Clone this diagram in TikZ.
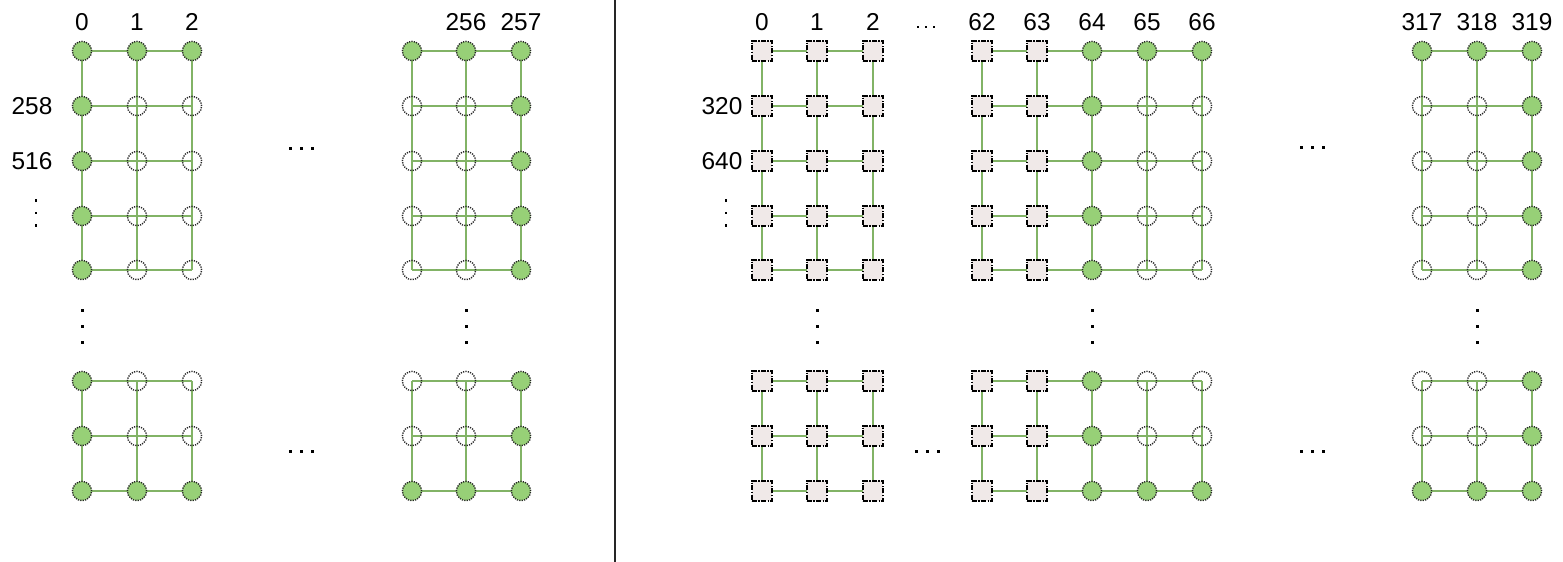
\documentclass[tikz,border=0pt]{standalone}
\usepackage{fontspec}
\setmainfont{Liberation Sans}
\usetikzlibrary{backgrounds}
\definecolor{gfill}{HTML}{97D077}
\definecolor{gline}{HTML}{82B366}
\definecolor{sfill}{RGB}{240,233,232}
\newcommand\mkgrid[4]{%
  \foreach \row [count=\j] in {#4} {%
    \foreach \t [count=\i] in \row {%
      \pgfmathsetmacro\xx{{#2}[\i-1]}%
      \pgfmathsetmacro\yy{{#3}[\j-1]}%
      \node[n\t] (#1-\j-\i) at (\xx,\yy) {};%
    }%
  }%
}
\newcommand\mkedges[3]{%
  \foreach \j in {1,...,#2} {%
    \foreach \i in {1,...,#3} {%
      \pgfmathtruncatemacro\ii{\i+1}%
      \pgfmathtruncatemacro\jj{\j+1}%
      \ifnum\i<#3 \draw[edge] (#1-\j-\i.center) -- (#1-\j-\ii.center);\fi
      \ifnum\j<#2 \draw[edge] (#1-\j-\i.center) -- (#1-\jj-\i.center);\fi
    }%
  }%
}
\newcommand\hdotsx[4]{\foreach \k in {0,1,2}{\fill ({#1-#3+\k*#3},#2) ++(-#4,-#4) rectangle ++(2*#4,2*#4);}}
\newcommand\vdotsx[4]{\foreach \k in {0,1,2}{\fill (#1,{#2-#3+\k*#3}) ++(-#4,-#4) rectangle ++(2*#4,2*#4);}}
\begin{document}
\begin{tikzpicture}[x=0.5pt,y=-0.5pt,
  every node/.style={font=\fontsize{12.2}{14}\selectfont},
  ng/.style={circle,inner sep=0pt,minimum size=9.6pt,fill=gfill,draw=black!85,line width=0.7pt,dash pattern=on 0.6pt off 0.6pt},
  no/.style={circle,inner sep=0pt,minimum size=9.6pt,draw=black!85,line width=0.7pt,dash pattern=on 0.6pt off 0.6pt},
  ns/.style={rectangle,inner sep=0pt,minimum size=10pt,fill=sfill,draw=black,line width=1pt,dash pattern=on 2.5pt off 0.7pt on 0.7pt off 0.7pt},
  edge/.style={draw=gline,line width=1.1pt},
  lbl/.style={inner sep=0pt}]
\useasboundingbox (0,0) rectangle (1563,562);
% left half
\mkgrid{At}{82,137,192}{51,106,161,216,270}{{g,g,g},{g,o,o},{g,o,o},{g,o,o},{g,o,o}}
\mkgrid{Ab}{82,137,192}{381,436,491}{{g,o,o},{g,o,o},{g,g,g}}
\mkgrid{Bt}{412,466,521}{51,106,161,216,270}{{g,g,g},{o,o,g},{o,o,g},{o,o,g},{o,o,g}}
\mkgrid{Bb}{412,466,521}{381,436,491}{{o,o,g},{o,o,g},{g,g,g}}
% right half
\mkgrid{Ct}{762,817,873}{51,106,161,216,270}{{s,s,s},{s,s,s},{s,s,s},{s,s,s},{s,s,s}}
\mkgrid{Cb}{762,817,873}{381,436,491}{{s,s,s},{s,s,s},{s,s,s}}
\mkgrid{Dt}{982,1037,1092,1147,1202}{51,106,161,216,270}{{s,s,g,g,g},{s,s,g,o,o},{s,s,g,o,o},{s,s,g,o,o},{s,s,g,o,o}}
\mkgrid{Db}{982,1037,1092,1147,1202}{381,436,491}{{s,s,g,o,o},{s,s,g,o,o},{s,s,g,g,g}}
\mkgrid{Et}{1422,1477,1532}{51,106,161,216,270}{{g,g,g},{o,o,g},{o,o,g},{o,o,g},{o,o,g}}
\mkgrid{Eb}{1422,1477,1532}{381,436,491}{{o,o,g},{o,o,g},{g,g,g}}
\begin{pgfonlayer}{background}
\mkedges{At}{5}{3}\mkedges{Ab}{3}{3}
\mkedges{Bt}{5}{3}\mkedges{Bb}{3}{3}
\mkedges{Ct}{5}{3}\mkedges{Cb}{3}{3}
\mkedges{Dt}{5}{5}\mkedges{Db}{3}{5}
\mkedges{Et}{5}{3}\mkedges{Eb}{3}{3}
\end{pgfonlayer}
% labels
\node[lbl] (la0) at (82,22) {0};
\node[lbl] (la1) at (137,22) {1};
\node[lbl] (la2) at (192,22) {2};
\node[lbl] (lb256) at (466,22) {256};
\node[lbl] (lb257) at (521,22) {257};
\node[lbl] (lc0) at (762,22) {0};
\node[lbl] (lc1) at (817,22) {1};
\node[lbl] (lc2) at (873,22) {2};
\node[lbl] (ld62) at (982,22) {62};
\node[lbl] (ld63) at (1037,22) {63};
\node[lbl] (ld64) at (1092,22) {64};
\node[lbl] (ld65) at (1147,22) {65};
\node[lbl] (ld66) at (1202,22) {66};
\node[lbl] (le317) at (1422,22) {317};
\node[lbl] (le318) at (1477,22) {318};
\node[lbl] (le319) at (1532,22) {319};
\node[lbl] (r258) at (32,106) {258};
\node[lbl] (r516) at (32,161) {516};
\node[lbl] (r320) at (722,106) {320};
\node[lbl] (r640) at (722,161) {640};
% ellipses
\hdotsx{926}{27}{8}{1}
\hdotsx{301}{148}{11}{1.5}
\hdotsx{301}{451}{11}{1.5}
\hdotsx{927}{451}{11}{1.5}
\hdotsx{1312}{147}{11}{1.5}
\hdotsx{1312}{451}{11}{1.5}
\vdotsx{36}{213}{12.5}{1.3}
\vdotsx{726}{213}{12.5}{1.3}
\vdotsx{82}{326}{16}{1.5}
\vdotsx{466}{326}{16}{1.5}
\vdotsx{817}{326}{16}{1.5}
\vdotsx{1092}{326}{16}{1.5}
\vdotsx{1477}{326}{16}{1.5}
% divider
\coordinate (dtop) at (615,0);
\coordinate (dbot) at (615,562);
\draw[line width=1pt,black!85] (dtop) -- (dbot);
\end{tikzpicture}
\end{document}
